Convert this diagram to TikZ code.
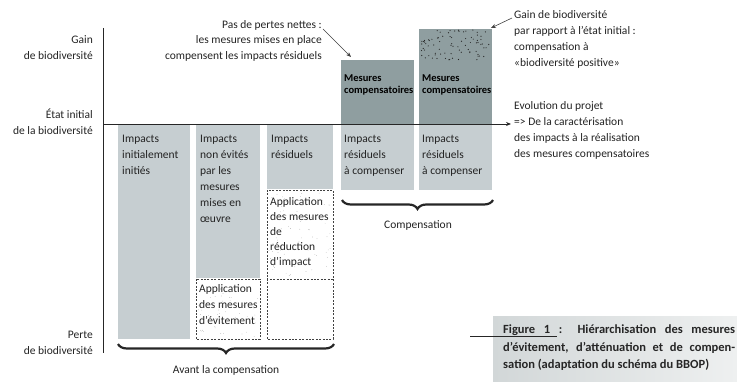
\documentclass[tikz,border=0pt]{standalone}
\usepackage{fontspec}
\setmainfont{Carlito}
\usetikzlibrary{decorations.pathreplacing,arrows.meta}
\definecolor{barlight}{RGB}{198,206,209}
\definecolor{bardark}{RGB}{143,158,160}
\definecolor{txt}{RGB}{35,35,35}
\definecolor{capleft}{RGB}{210,215,216}
\definecolor{capright}{RGB}{238,240,240}
\begin{document}
\begin{tikzpicture}[x=1pt,y=-1pt,
  font=\fontsize{11.5}{16}\selectfont,
  lbl/.style={inner sep=0pt, align=left, anchor=north west, text=txt},
  rlbl/.style={inner sep=0pt, align=right, anchor=north east, text=txt},
  bartxt/.style={inner sep=0pt, align=left, anchor=north west, text=txt},
  mestxt/.style={inner sep=0pt, align=left, anchor=north west, text=black,
     font=\bfseries\fontsize{10.5}{12.5}\selectfont},
  lightbar/.style={fill=barlight, draw=none},
  darkbar/.style={fill=bardark, draw=none},
  dashbox/.style={draw=black!75, line width=0.9pt, dash pattern=on 2pt off 1.4pt},
  axis/.style={draw=black!85, line width=0.9pt},
  brc/.style={decorate, decoration={brace, amplitude=9pt, mirror}, line width=2.2pt, draw=black!85},
  pointer/.style={draw=black!75, line width=0.6pt, -{Stealth[length=5pt,width=4pt]}}]
\useasboundingbox (0,0) rectangle (737,382);

% bars
\fill[lightbar] (118,124) rectangle (190,339);
\fill[lightbar] (196,124) rectangle (260,278);
\fill[lightbar] (267,124) rectangle (333,189);
\fill[lightbar] (341,124) rectangle (414,190);
\fill[lightbar] (419,124) rectangle (492,190);
\fill[darkbar] (341,60) rectangle (414,124);
\fill[darkbar] (419,29) rectangle (492,124);

% random dots
\pgfmathsetseed{23}
\foreach \i in {1,...,80}{
  \pgfmathsetmacro\xx{421+69*rnd}
  \pgfmathsetmacro\yy{30+30*rnd}
  \fill[black!85] (\xx,\yy) circle (0.6pt);
}
\foreach \i in {1,...,55}{
  \pgfmathsetmacro\xx{198+60*rnd}
  \pgfmathsetmacro\yy{281+56*rnd}
  \fill[black!35] (\xx,\yy) circle (0.35pt);
}
\foreach \i in {1,...,75}{
  \pgfmathsetmacro\xx{269+62*rnd}
  \pgfmathsetmacro\yy{192+84*rnd}
  \fill[black!35] (\xx,\yy) circle (0.35pt);
}

% dashed boxes
\draw[dashbox] (196,279) rectangle (260,339);
\draw[dashbox] (267,190) rectangle (333,279);
\draw[dashbox] (267,279) -- (267,339) -- (333,339) -- (333,279);

% axes
\coordinate (axtop) at (103,28);
\coordinate (axbot) at (103,353);
\coordinate (hstart) at (103,124);
\coordinate (hend) at (511,124);
\draw[axis] (axtop) -- (axbot);
\draw[axis, -{Stealth[length=5pt,width=4pt]}] (hstart) -- (hend);

% left labels
\node[rlbl] (gain) at (93,35) {Gain\\de biodiversité};
\node[rlbl] (etat) at (93,109) {État initial\\de la biodiversité};
\node[rlbl] (perte) at (93,331) {Perte\\de biodiversité};

% bar texts
\node[bartxt] (b1) at (122,135) {Impacts\\initialement\\initiés};
\node[bartxt] (b2) at (200,135) {Impacts\\non évités\\par les\\mesures\\mises en\\œuvre};
\node[bartxt] (b3) at (271,135) {Impacts\\résiduels};
\node[bartxt] (b4) at (344,135) {Impacts\\résiduels\\à compenser};
\node[bartxt] (b5) at (422,135) {Impacts\\résiduels\\à compenser};
\node[mestxt] (m4) at (344,74) {Mesures\\compensatoires};
\node[mestxt] (m5) at (422,74) {Mesures\\compensatoires};
\node[bartxt, font=\fontsize{11.5}{15}\selectfont] (red) at (270,197.5) {Application\\des mesures\\de\\réduction\\d’impact};
\node[bartxt, font=\fontsize{11.5}{16}\selectfont] (evit) at (199,284.5) {Application\\des mesures\\d’évitement};

% top annotations
\node[rlbl, font=\fontsize{11.5}{15.5}\selectfont] (pas) at (322,20) {Pas de pertes nettes :\\les mesures mises en place\\compensent les impacts résiduels};
\node[lbl] (gainbio) at (514,10) {Gain de biodiversité\\par rapport à l’état initial :\\compensation à\\«biodiversité positive»};
\node[lbl] (evol) at (514,101) {Evolution du projet\\=> De la caractérisation\\des impacts à la réalisation\\des mesures compensatoires};

\coordinate (p1s) at (323,29);
\coordinate (p1e) at (351,57);
\draw[pointer] (p1s) -- (p1e);
\coordinate (p2s) at (512,18);
\coordinate (p2e) at (491,28);
\draw[pointer] (p2s) -- (p2e);

% braces
\coordinate (bl1) at (118,344);
\coordinate (br1) at (334,344);
\draw[brc] (bl1) -- (br1);
\node[inner sep=0pt, text=txt] (avant) at (226,370) {Avant la compensation};
\coordinate (bl2) at (342,200);
\coordinate (br2) at (493,200);
\draw[brc] (bl2) -- (br2);
\node[inner sep=0pt, text=txt] (comp) at (418,225) {Compensation};

% caption
\fill[left color=capleft, right color=capright] (493,317) rectangle (737,382);
\node[inner sep=0pt, anchor=north west, text width=232pt, align=justify, text=black!85,
  font=\bfseries\fontsize{12.5}{17.3}\selectfont] (cap) at (503,325)
  {Figure 1 : Hiérarchisation des mesures\linebreak d’évitement, d’atténuation et de compen-\linebreak sation (adaptation du schéma du BBOP)};
\coordinate (uls) at (470,336);
\coordinate (ule) at (557,336);
\draw[black!85, line width=0.8pt] (uls) -- (ule);
\end{tikzpicture}
\end{document}
